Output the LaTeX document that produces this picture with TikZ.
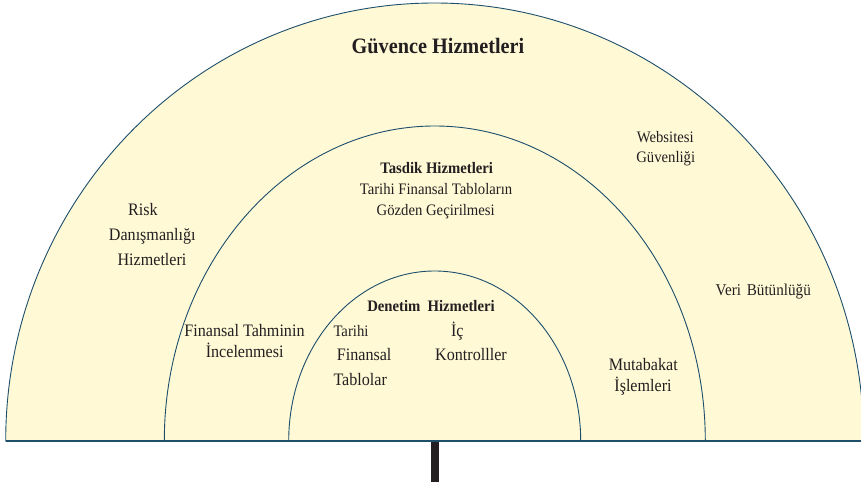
\documentclass[tikz,border=0pt]{standalone}
\usepackage{fontspec}
\setmainfont{Liberation Serif}[FakeStretch=0.92]
\definecolor{ringfill}{HTML}{FFF9D6}
\definecolor{ringline}{HTML}{1D4E6B}
\definecolor{inkdark}{HTML}{231F20}
\tikzset{
  ring/.style={fill=ringfill, draw=ringline, line width=0.9pt},
  txt/.style={inner sep=0pt, anchor=base, text=inkdark, font=\fontsize{17.5}{20}\selectfont},
  txtsm/.style={txt, font=\fontsize{16}{19}\selectfont},
  head/.style={txt, font=\fontsize{16}{19}\selectfont\bfseries},
  bighead/.style={txt, font=\fontsize{22}{26}\selectfont\bfseries},
}
\begin{document}
\begin{tikzpicture}[x=1pt,y=-1pt]
  \useasboundingbox (0,0) rectangle (861,486);
  \clip (0,0) rectangle (861,486);

  % three nested half ellipses on a common base line
  \path[ring] (5.7,441) arc[start angle=180, end angle=360, x radius=429, y radius=438] -- cycle;
  \path[ring] (164.3,441) arc[start angle=180, end angle=360, x radius=270.5, y radius=315] -- cycle;
  \path[ring] (288.7,441) arc[start angle=180, end angle=360, x radius=146, y radius=170] -- cycle;

  % base line and stem
  \coordinate (baseL) at (5.7,441);
  \coordinate (baseR) at (861,441);
  \draw[ringline, line width=1.2pt] (baseL) -- (baseR);
  \fill[inkdark] (431,441.6) rectangle (439,482);

  % outer ring
  \node[bighead] (guvence) at (438,54) {Güvence Hizmetleri};
  \node[txt] (risk1) at (142.8,216) {Risk};
  \node[txt] (risk2) at (152.3,240.7) {Danışmanlığı};
  \node[txt] (risk3) at (152,265) {Hizmetleri};
  \node[txtsm] (web1) at (665.3,142.3) {Websitesi};
  \node[txtsm] (web2) at (665.7,162.7) {Güvenliği};
  \node[txt, font=\fontsize{16.5}{19}\selectfont] (veri) at (763.3,295) {Veri\hspace{0.35em}Bütünlüğü};

  % middle ring
  \node[head] (tasdik) at (436.7,174) {Tasdik Hizmetleri};
  \node[txtsm] (tasdik1) at (436,195) {Tarihi Finansal Tabloların};
  \node[txtsm] (tasdik2) at (435.7,215.7) {Gözden Geçirilmesi};
  \node[txt] (tahmin1) at (244.5,336.7) {Finansal Tahminin};
  \node[txt] (tahmin2) at (244.7,357.3) {İncelenmesi};
  \node[txt] (mutab1) at (643.3,370) {Mutabakat};
  \node[txt] (mutab2) at (643,391.7) {İşlemleri};

  % inner ring
  \node[head] (denetim) at (431,311.7) {Denetim\hspace{0.45em}Hizmetleri};
  \node[txtsm, anchor=base west] (tfin1) at (333.3,336.7) {Tarihi};
  \node[txt, anchor=base west] (tfin2) at (336.7,360) {Finansal};
  \node[txt, anchor=base west] (tfin3) at (333.3,385) {Tablolar};
  \node[txt] (ic1) at (457.3,336.7) {İç};
  \node[txt] (ic2) at (471,360) {Kontrolller};
\end{tikzpicture}
\end{document}
